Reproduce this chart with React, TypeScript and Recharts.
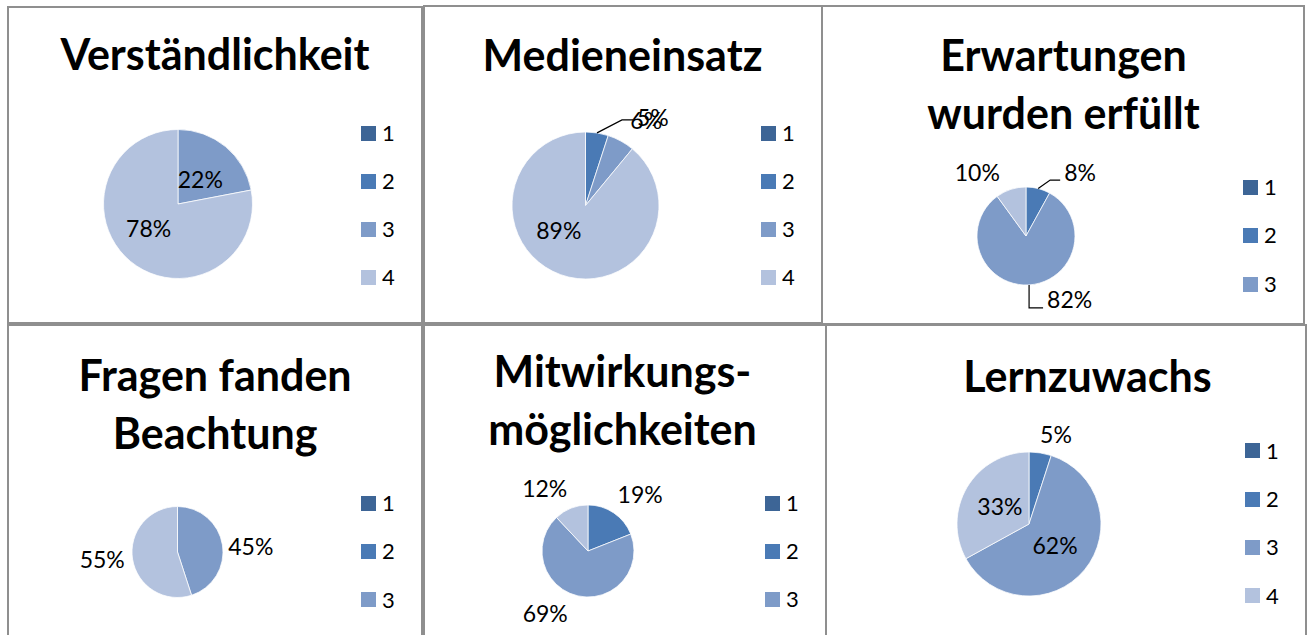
import React from 'react';
import { PieChart, Pie, Cell, Legend } from 'recharts';

// rating categories 1..4 and their colours
const categories = ['1', '2', '3', '4'];
const colors = ['#3D6596', '#4A7AB5', '#7E9BC8', '#B3C2DE'];

// share of answers per rating, in percent
const verstaendlichkeit = [0, 0, 22, 78];
const medieneinsatz = [0, 5, 6, 89];
const erwartungen = [0, 8, 82, 10];
const fragen = [0, 0, 45, 55];
const mitwirkung = [0, 19, 69, 12];
const lernzuwachs = [0, 5, 62, 33];

const titleVerst = ['Verständlichkeit'];
const titleMedien = ['Medieneinsatz'];
const titleErw = ['Erwartungen', 'wurden erfüllt'];
const titleFragen = ['Fragen fanden', 'Beachtung'];
const titleMitw = ['Mitwirkungs-', 'möglichkeiten'];
const titleLern = ['Lernzuwachs'];

const FONT = 'Lato, "Open Sans", sans-serif';
const LABEL_SIZE = 23;
const TITLE_SIZE = 43;

type Tweak = {
  mode: 'in' | 'out';
  dx?: number;
  dy?: number;
  leader?: [number, number, number, number]; // elbow dx, elbow dy, horizontal length, text dy
};

type Panel = {
  title: string[];
  values: number[];
  legendCount: number;
  box: [number, number, number, number];
  cx: number;
  cy: number;
  r: number;
  titleX: number;
  titleY: number[];
  legend: [number, number, number];
  labels: Record<number, Tweak>;
};

const panels: Panel[] = [
  {
    title: titleVerst, values: verstaendlichkeit, legendCount: 4,
    box: [7, 6, 416, 318], cx: 178, cy: 204, r: 74.5, titleX: 215, titleY: [70],
    legend: [361, 133, 48],
    labels: { 2: { mode: 'in', dy: 3 }, 3: { mode: 'in', dx: -7, dy: -2 } },
  },
  {
    title: titleMedien, values: medieneinsatz, legendCount: 4,
    box: [423, 5, 400, 319], cx: 585.5, cy: 205.5, r: 73.5, titleX: 622.5, titleY: [71],
    legend: [761, 133, 48],
    labels: {
      1: { mode: 'out', leader: [25, -13, 11, -2] },
      2: { mode: 'out', dx: 14, dy: -5 },
      3: { mode: 'in', dx: -15, dy: -7 },
    },
  },
  {
    title: titleErw, values: erwartungen, legendCount: 3,
    box: [821, 5, 484, 320], cx: 1026, cy: 236, r: 49, titleX: 1063.5, titleY: [71, 129],
    legend: [1243, 187, 48.5],
    labels: {
      1: { mode: 'out', leader: [12, -8.5, 10, -7] },
      2: { mode: 'out', leader: [0, 23, 14, -8] },
      3: { mode: 'out', dx: -24 },
    },
  },
  {
    title: titleFragen, values: fragen, legendCount: 3,
    box: [7, 324, 416, 330], cx: 177.5, cy: 552, r: 45.5, titleX: 215, titleY: [391, 449],
    legend: [361, 503.3, 48.3],
    labels: { 2: { mode: 'out', dx: -2, dy: 5 }, 3: { mode: 'out', dy: -2 } },
  },
  {
    title: titleMitw, values: mitwirkung, legendCount: 3,
    box: [423, 324, 405, 330], cx: 588, cy: 551, r: 46, titleX: 622.5, titleY: [387, 445],
    legend: [765, 503, 48],
    labels: {
      1: { mode: 'out', dx: 9, dy: -3 },
      2: { mode: 'out', dx: -26 },
      3: { mode: 'out', dx: -15, dy: -3 },
    },
  },
  {
    title: titleLern, values: lernzuwachs, legendCount: 4,
    box: [825, 324, 482, 330], cx: 1029, cy: 524, r: 72, titleX: 1087.5, titleY: [392],
    legend: [1245, 451, 48.3],
    labels: { 1: { mode: 'out', dx: 12 }, 2: { mode: 'in' }, 3: { mode: 'in' } },
  },
];

const RAD = Math.PI / 180;

function makeLabel(panel: Panel) {
  return (props: any) => {
    const { cx, cy, midAngle, outerRadius, index } = props;
    const value = panel.values[index];
    const tw = panel.labels[index];
    if (!value || !tw) return null;
    const text = `${value}%`;
    const cos = Math.cos(midAngle * RAD);
    const sin = Math.sin(midAngle * RAD);
    const baseShift = LABEL_SIZE * 0.36;

    if (tw.leader) {
      const [ex, ey, hl, tdy] = tw.leader;
      const sx = cx + outerRadius * cos;
      const sy = cy - outerRadius * sin;
      const bx = sx + ex;
      const by = sy + ey;
      const side = cos >= 0 ? 1 : -1;
      const endX = bx + side * hl;
      return (
        <g>
          <polyline points={`${sx},${sy} ${bx},${by} ${endX},${by}`} fill="none" stroke="#000" strokeWidth={1.2} />
          <text
            x={endX + side * 4}
            y={by + tdy + baseShift}
            textAnchor={side > 0 ? 'start' : 'end'}
            fontFamily={FONT}
            fontSize={LABEL_SIZE}
            fill="#000"
          >
            {text}
          </text>
        </g>
      );
    }

    let x: number;
    let y: number;
    if (tw.mode === 'in') {
      x = cx + outerRadius * 0.47 * cos;
      y = cy - outerRadius * 0.47 * sin;
    } else {
      const w = text.length * 14.5 + 2;
      const h = 20;
      x = cx + (outerRadius + 8) * cos + (w / 2) * cos;
      y = cy - (outerRadius + 8) * sin - (h / 2) * sin;
    }
    x += tw.dx ?? 0;
    y += tw.dy ?? 0;
    return (
      <text x={x} y={y + baseShift} textAnchor="middle" fontFamily={FONT} fontSize={LABEL_SIZE} fill="#000">
        {text}
      </text>
    );
  };
}

function LegendBox({ count, step }: { count: number; step: number }) {
  return (
    <div>
      {categories.slice(0, count).map((c, i) => (
        <div key={c} style={{ display: 'flex', alignItems: 'center', height: step }}>
          <span style={{ display: 'inline-block', width: 15, height: 15, background: colors[i], marginRight: 6 }} />
          <span style={{ fontSize: 22, fontFamily: FONT, color: '#000', lineHeight: 1.2 }}>{c}</span>
        </div>
      ))}
    </div>
  );
}

function PiePanel({ panel }: { panel: Panel }) {
  const [left, top, w, h] = panel.box;
  const data = categories.map((c, i) => ({ name: c, value: panel.values[i] }));
  const [lx, ly, step] = panel.legend;
  return (
    <>
      <div
        style={{
          position: 'absolute', left, top, width: w, height: h,
          border: '2px solid #8f8f8f', boxSizing: 'border-box', background: '#fff',
        }}
      />
      <div style={{ position: 'absolute', left, top }}>
        <PieChart width={w} height={Math.min(h, 635 - top)} margin={{ top: 0, right: 0, bottom: 0, left: 0 }}>
          {panel.title.map((line, i) => (
            <text
              key={line}
              x={panel.titleX - left}
              y={panel.titleY[i] - top}
              textAnchor="middle"
              fontFamily={FONT}
              fontWeight={700}
              fontSize={TITLE_SIZE}
              fill="#000"
            >
              {line}
            </text>
          ))}
          <Pie
            data={data}
            dataKey="value"
            nameKey="name"
            cx={panel.cx - left}
            cy={panel.cy - top}
            outerRadius={panel.r}
            startAngle={90}
            endAngle={-270}
            stroke="#ffffff"
            strokeWidth={0.75}
            label={makeLabel(panel)}
            labelLine={false}
            isAnimationActive={false}
          >
            {data.map((d, i) => (
              <Cell key={d.name} fill={colors[i]} />
            ))}
          </Pie>
          <Legend
            layout="vertical"
            align="right"
            verticalAlign="middle"
            content={() => <LegendBox count={panel.legendCount} step={step} />}
            wrapperStyle={{ left: lx - left, top: ly - step / 2 - top, width: 40, right: 'auto' }}
          />
        </PieChart>
      </div>
    </>
  );
}

export default function App() {
  return (
    <div
      style={{
        position: 'absolute', left: 0, top: 0, width: 1311, height: 635,
        overflow: 'hidden', background: '#fff',
      }}
    >
      {panels.map((p) => (
        <PiePanel key={p.title.join(' ')} panel={p} />
      ))}
    </div>
  );
}
